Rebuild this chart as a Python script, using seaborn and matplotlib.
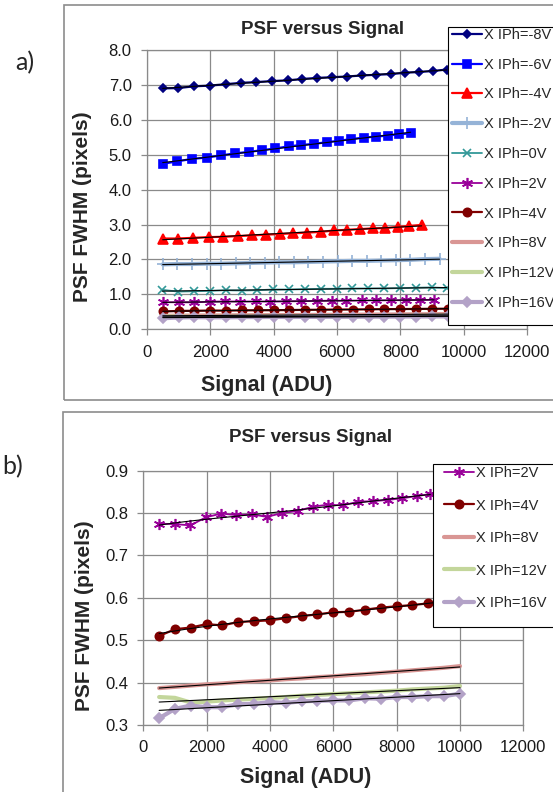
import numpy as np
import matplotlib
matplotlib.use('Agg')
import matplotlib.pyplot as plt
from matplotlib.patches import Rectangle
from matplotlib.ticker import FormatStrFormatter
import seaborn as sns

sns.set_style('white')
plt.rcParams['font.family'] = ['Liberation Sans', 'DejaVu Sans']

W, H = 553, 792

# ── data ──────────────────────────────────────────────────────────────────────
sig_m8 = [495, 990, 1484, 1979, 2484, 2979, 3453, 3947, 4442, 4905, 5368, 5832,
          6305, 6779, 7232, 7705, 8158, 8600, 9042, 9463]
fw_m8 = [6.90, 6.91, 6.96, 6.98, 7.02, 7.06, 7.08, 7.11, 7.13, 7.17, 7.20, 7.22,
         7.24, 7.27, 7.29, 7.31, 7.35, 7.37, 7.40, 7.44]

sig_m6 = [495, 947, 1421, 1884, 2337, 2789, 3211, 3632, 4053, 4474, 4874, 5274,
          5674, 6074, 6453, 6842, 7232, 7611, 7968, 8326]
fw_m6 = [4.74, 4.81, 4.88, 4.92, 4.98, 5.04, 5.08, 5.13, 5.18, 5.24, 5.28, 5.31,
         5.36, 5.40, 5.45, 5.49, 5.52, 5.55, 5.59, 5.61]

sig_m4 = [495, 969, 1463, 1947, 2411, 2863, 3316, 3768, 4200, 4621, 5053, 5484,
          5905, 6326, 6726, 7126, 7526, 7916, 8284, 8674]
fw_m4 = [2.60, 2.60, 2.62, 2.64, 2.65, 2.67, 2.69, 2.71, 2.73, 2.75, 2.77, 2.79,
         2.83, 2.85, 2.87, 2.89, 2.90, 2.93, 2.96, 2.99]

sig_m2 = [495, 960, 1420, 1880, 2340, 2800, 3260, 3720, 4180, 4640, 5100, 5560,
          6020, 6480, 6940, 7400, 7860, 8320, 8780, 9240]
fw_m2 = [1.86, 1.87, 1.87, 1.88, 1.88, 1.89, 1.90, 1.91, 1.92, 1.92, 1.93, 1.94,
         1.95, 1.96, 1.96, 1.97, 1.98, 1.99, 2.01, 2.02]

sig_0 = [485, 980, 1485, 1990, 2485, 2990, 3485, 3990, 4485, 4990, 5485, 5990,
         6485, 6990, 7485, 7990, 8485, 8990, 9465]
fw_0 = [1.13, 1.08, 1.09, 1.10, 1.12, 1.11, 1.12, 1.14, 1.14, 1.15, 1.16, 1.16,
        1.17, 1.17, 1.17, 1.18, 1.19, 1.20, 1.18]

sig_p2 = [500, 1000, 1490, 1975, 2465, 2940, 3440, 3900, 4380, 4870, 5360, 5830,
          6300, 6780, 7240, 7715, 8170, 8630, 9065]
fw_p2 = [0.775, 0.774, 0.771, 0.790, 0.799, 0.795, 0.797, 0.791, 0.800, 0.805,
         0.815, 0.820, 0.818, 0.827, 0.828, 0.831, 0.835, 0.840, 0.845]

sig_p4 = [500, 1000, 1500, 2000, 2500, 3000, 3500, 4000, 4500, 5000, 5500, 6000,
          6500, 7000, 7500, 8000, 8500, 9000, 9500]
fw_p4 = [0.510, 0.526, 0.530, 0.538, 0.535, 0.543, 0.545, 0.547, 0.552, 0.557,
         0.561, 0.566, 0.567, 0.572, 0.577, 0.580, 0.583, 0.587, 0.590]

sig_hi = [500, 1000, 1500, 2000, 2500, 3000, 3500, 4000, 4500, 5000, 5500, 6000,
          6500, 7000, 7500, 8000, 8500, 9000, 9500, 10000]
fw_p8 = [0.387, 0.390, 0.393, 0.396, 0.398, 0.401, 0.403, 0.405, 0.408, 0.410,
         0.413, 0.415, 0.418, 0.420, 0.423, 0.426, 0.429, 0.432, 0.435, 0.439]
fw_p12 = [0.366, 0.364, 0.353, 0.355, 0.358, 0.360, 0.362, 0.364, 0.366, 0.369,
          0.371, 0.373, 0.375, 0.377, 0.379, 0.381, 0.384, 0.386, 0.388, 0.392]
fw_p16 = [0.316, 0.338, 0.346, 0.342, 0.342, 0.349, 0.350, 0.354, 0.352, 0.356,
          0.357, 0.358, 0.358, 0.363, 0.362, 0.366, 0.366, 0.368, 0.368, 0.374]

# x, y, color, marker, markersize, linewidth, trend order
series = {
    '-8V': (sig_m8, fw_m8, '#000080', 'D', 4.2, 1.6, 1),
    '-6V': (sig_m6, fw_m6, '#0000FF', 's', 6.0, 1.6, 1),
    '-4V': (sig_m4, fw_m4, '#FF0000', '^', 7.0, 1.6, 1),
    '-2V': (sig_m2, fw_m2, '#95B3D7', '+', 8.0, 3.0, 1),
    '0V': (sig_0, fw_0, '#339999', 'x', 6.0, 1.3, 1),
    '2V': (sig_p2, fw_p2, '#990099', (6, 2, 0), 8.0, 1.3, 4),
    '4V': (sig_p4, fw_p4, '#800000', 'o', 6.0, 1.6, 3),
    '8V': (sig_hi, fw_p8, '#D99694', None, 0, 3.0, 1),
    '12V': (sig_hi, fw_p12, '#C3D69B', None, 0, 3.0, 1),
    '16V': (sig_hi, fw_p16, '#B3A2C7', 'D', 5.0, 3.0, 1),
}
keys_a = ['-8V', '-6V', '-4V', '-2V', '0V', '2V', '4V', '8V', '12V', '16V']
keys_b = ['2V', '4V', '8V', '12V', '16V']

fig = plt.figure(figsize=(W / 100, H / 100), dpi=100)


def fx(px):
    return px / W


def fy(py):
    return 1 - py / H


def draw_panel(rect, keys, ylim, yticks, box, anchor, spacing):
    l, t, r, b = rect
    ax = fig.add_axes([fx(l), fy(b), fx(r - l), (b - t) / H])
    for k in keys:
        x, y, c, m, ms, lw, _ = series[k]
        sns.lineplot(x=x, y=y, ax=ax, color=c, lw=lw, marker=m, markersize=ms,
                     markeredgecolor=c, markerfacecolor=c, mew=1.2,
                     sort=False, estimator=None, label=f'X IPh={k}')
    for k in keys:
        x, y, *_, order = series[k]
        sns.regplot(x=np.array(x), y=np.array(y), order=order, scatter=False,
                    ci=None, ax=ax, color='black', line_kws={'lw': 0.8})
    ax.set_xlim(0, 12000)
    ax.set_ylim(*ylim)
    ax.set_xticks(range(0, 12001, 2000))
    ax.set_yticks(yticks)
    ax.yaxis.set_major_formatter(FormatStrFormatter('%.1f'))
    ax.grid(True, color='#8a8a8a', lw=0.9)
    for s in ax.spines.values():
        s.set_color('#8a8a8a')
        s.set_linewidth(0.9)
    ax.tick_params(direction='out', length=4, width=0.9, color='#8a8a8a',
                   labelsize=12, labelcolor='#1a1a1a', pad=7,
                   left=True, bottom=True)
    ax.set_xlabel('')
    ax.set_ylabel('')

    # legend box drawn by hand so its padding matches the reference
    bl, bt, br, bb = box
    ax.add_patch(Rectangle((fx(bl), fy(bb)), fx(br - bl), (bb - bt) / H,
                           transform=fig.transFigure, clip_on=False,
                           facecolor='white', edgecolor='black', lw=0.8,
                           zorder=4.5))
    h, lab = ax.get_legend_handles_labels()
    ax.legend(h, lab, loc='upper left',
              bbox_to_anchor=(fx(anchor[0]), fy(anchor[1])),
              bbox_transform=fig.transFigure, fontsize=10.5,
              frameon=False, borderpad=0, labelspacing=spacing,
              handlelength=2.05, handletextpad=0.12, borderaxespad=0)
    return ax


draw_panel((147, 50, 527, 329.3), keys_a, (0, 8), np.arange(0, 8.01, 1.0),
           (448, 27, 600, 325), (452, 28), 1.08)
draw_panel((143.3, 470.7, 523.3, 725), keys_b, (0.3, 0.9),
           np.arange(0.3, 0.901, 0.1), (433, 464, 600, 627), (444, 466), 1.27)

# panel frames
fig.add_artist(Rectangle((fx(64), fy(400)), fx(600 - 64), 395 / H,
                         transform=fig.transFigure, fill=False,
                         edgecolor='#8c8c8c', lw=1.2))
fig.add_artist(Rectangle((fx(63), fy(820)), fx(600 - 63), (820 - 412) / H,
                         transform=fig.transFigure, fill=False,
                         edgecolor='#8c8c8c', lw=1.2))

# titles and axis labels
for (tx, ty) in [(323, 30), (311, 437)]:
    fig.text(fx(tx), fy(ty), 'PSF versus Signal', ha='center', va='center',
             fontsize=13.5, fontweight='bold')
for (tx, ty) in [(267, 385), (306, 777)]:
    fig.text(fx(tx), fy(ty), 'Signal (ADU)', ha='center', va='center',
             fontsize=15.5, fontweight='bold')
for (tx, ty) in [(82, 207), (84, 616)]:
    fig.text(fx(tx), fy(ty), 'PSF FWHM (pixels)', ha='center', va='center',
             rotation=90, fontsize=15, fontweight='bold')

fig.text(fx(25), fy(63), 'a)', ha='center', va='center', fontsize=18,
         family=['Lato', 'DejaVu Sans'])
fig.text(fx(13), fy(467), 'b)', ha='center', va='center', fontsize=18,
         family=['Lato', 'DejaVu Sans'])

fig.savefig('out.png', dpi=100)
